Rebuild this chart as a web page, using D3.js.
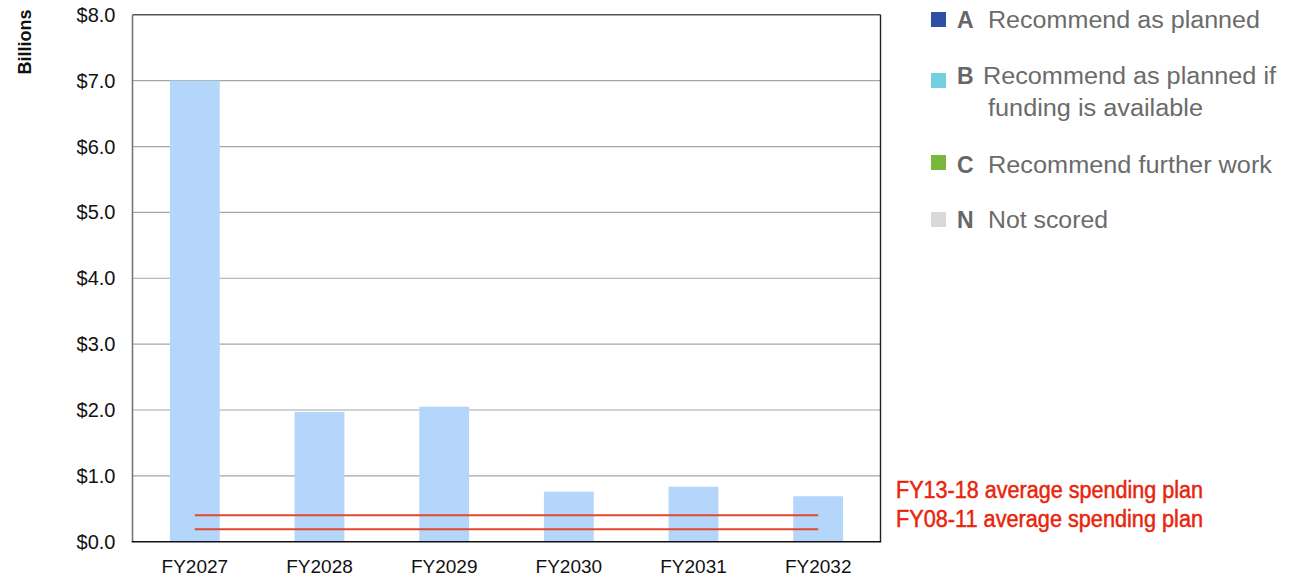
<!DOCTYPE html>
<html><head><meta charset="utf-8">
<script src="https://cdn.jsdelivr.net/npm/d3@7"></script>
<style>body{margin:0;background:#fff}svg{display:block}</style>
</head><body>
<svg id="c" width="1301" height="580"></svg>
<script>
const categories = ["FY2027","FY2028","FY2029","FY2030","FY2031","FY2032"];
const values = [7.0, 1.97, 2.05, 0.76, 0.835, 0.69];
const yTicks = [0,1,2,3,4,5,6,7,8];
const refLabels = ["FY13-18 average spending plan","FY08-11 average spending plan"];
const refValues = [0.40, 0.19];
const legendKeys = ["A","B","C","N"];
const legendLabels = [["Recommend as planned"],["Recommend as planned if","funding is available"],["Recommend further work"],["Not scored"]];
const legendColors = ["#2f4ea5","#74d0e0","#7ab73f","#d9d9d9"];

const svg = d3.select("#c");
const m = {l:132.5, r:880.5, t:14.8, b:541.7};
const x = d3.scaleBand().domain(categories).range([m.l, m.r]).paddingInner(0.6).paddingOuter(0.3);
const y = d3.scaleLinear().domain([0,8]).range([m.b, m.t]);

// gridlines
svg.append("g").selectAll("line").data(yTicks.filter(d=>d>0&&d<8)).join("line")
  .attr("x1", m.l).attr("x2", m.r).attr("y1", d=>y(d)).attr("y2", d=>y(d))
  .attr("stroke","#a6a6a6").attr("stroke-width",1.2);

// bars
svg.append("g").selectAll("rect").data(values).join("rect")
  .attr("x",(d,i)=>x(categories[i])).attr("width",x.bandwidth())
  .attr("y",d=>y(d)).attr("height",d=>y(0)-y(d)).attr("fill","#b5d6fb");

// reference lines
svg.append("g").selectAll("line").data(refValues).join("line")
  .attr("x1", x(categories[0])+x.bandwidth()/2)
  .attr("x2", x(categories[categories.length-1])+x.bandwidth()/2)
  .attr("y1", d=>y(d)).attr("y2", d=>y(d))
  .attr("stroke","#e4472f").attr("stroke-width",2);

// frame
svg.append("line").attr("x1",m.l).attr("x2",m.r).attr("y1",m.t).attr("y2",m.t).attr("stroke","#555").attr("stroke-width",1.4);
svg.append("line").attr("x1",m.r).attr("x2",m.r).attr("y1",m.t).attr("y2",m.b).attr("stroke","#222").attr("stroke-width",1.4);
svg.append("line").attr("x1",m.l).attr("x2",m.l).attr("y1",m.t).attr("y2",m.b).attr("stroke","#777").attr("stroke-width",1.6);
svg.append("line").attr("x1",m.l-0.8).attr("x2",m.r+0.7).attr("y1",m.b).attr("y2",m.b).attr("stroke","#111").attr("stroke-width",1.6);

// y axis
const yAxis = d3.axisLeft(y).tickValues(yTicks).tickFormat(d=>"$"+d.toFixed(1)).tickSize(0).tickPadding(17);
const gy = svg.append("g").attr("transform",`translate(${m.l},0)`).call(yAxis);
gy.select(".domain").remove();
gy.selectAll("text").attr("font-family","Liberation Sans, Arial, sans-serif").attr("font-size",20).attr("fill","#111").attr("dy","0.33em");

// x axis
const xAxis = d3.axisBottom(x).tickSize(0).tickPadding(18);
const gx = svg.append("g").attr("transform",`translate(0,${m.b})`).call(xAxis);
gx.select(".domain").remove();
gx.selectAll("text").attr("font-family","Liberation Sans, Arial, sans-serif").attr("font-size",19).attr("fill","#111");

// y title
svg.append("text").attr("transform","translate(31,42) rotate(-90)").attr("text-anchor","middle")
  .attr("font-family","Liberation Sans, Arial, sans-serif").attr("font-weight","bold").attr("font-size",18).attr("fill","#111").text("Billions");

// legend
const legTop = [12, 73, 155, 212];
const legBase = [28, 84, 173, 228];
const legWidths = [[272],[293,215],[284],[120]];
const lg = svg.append("g");
legendKeys.forEach((k,i)=>{
  lg.append("rect").attr("x",931).attr("y",legTop[i]).attr("width",15).attr("height",15).attr("fill",legendColors[i]);
  lg.append("text").attr("x",957).attr("y",legBase[i]).attr("font-family","Liberation Sans, Arial, sans-serif")
    .attr("font-weight","bold").attr("font-size",23).attr("fill","#666").text(k);
  legendLabels[i].forEach((t,j)=>{
    lg.append("text").attr("x", (i===1&&j===0)?983:988).attr("y",legBase[i]+j*32)
      .attr("font-family","Liberation Sans, Arial, sans-serif").attr("font-size",23).attr("fill","#6b6b6b")
      .attr("textLength",legWidths[i][j]).attr("lengthAdjust","spacingAndGlyphs").text(t);
  });
});

// reference labels
svg.append("g").selectAll("text").data(refLabels).join("text")
  .attr("x",896).attr("y",(d,i)=>498+i*29)
  .attr("font-family","Liberation Sans Narrow, Arial Narrow, Liberation Sans, sans-serif").attr("font-size",23.5)
  .attr("textLength",307).attr("lengthAdjust","spacingAndGlyphs")
  .attr("fill","#e8250c").attr("stroke","#e8250c").attr("stroke-width",0.5).text(d=>d);
</script>
</body></html>
